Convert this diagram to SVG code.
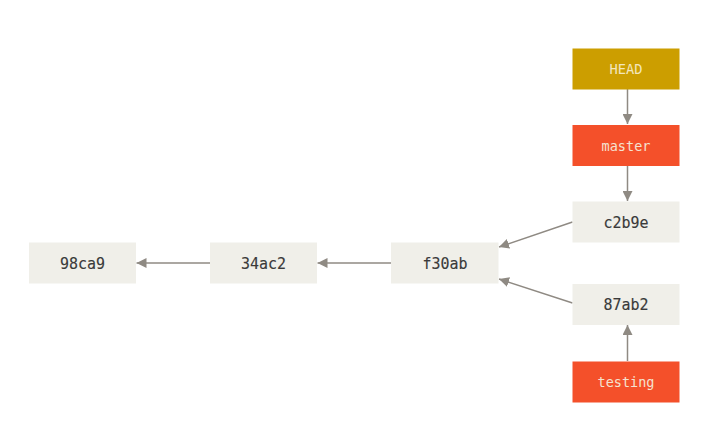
<svg xmlns="http://www.w3.org/2000/svg" width="728" height="437" viewBox="0 0 728 437">
<style>
.commit rect{fill:#F0EFE9}
.commit text{fill:#3a3a3a;font-family:"DejaVu Sans Mono","Liberation Mono",monospace;font-size:16.5px;text-anchor:middle;dominant-baseline:central;stroke:#3a3a3a;stroke-width:0.15}
.ref text{fill:#F4E2D0;font-family:"DejaVu Sans Mono","Liberation Mono",monospace;font-size:14.5px;text-anchor:middle;dominant-baseline:central}
.branch rect{fill:#F4502A}
.head rect{fill:#CC9E00}
.head text{fill:#F3E6BC}
#connectors line{stroke:#8F8A83;stroke-width:1.5;fill:none;marker-end:url(#arr)}
</style>
<defs>
<marker id="arr" viewBox="0 0 10 10" refX="10" refY="5" markerWidth="10" markerHeight="10" markerUnits="userSpaceOnUse" orient="auto">
<path d="M0,0 L10,5 L0,10 Z" fill="#8F8A83"/>
</marker>
</defs>
<rect width="728" height="437" fill="#ffffff"/>
<g id="connectors">
<line x1="627.5" y1="89" x2="627.5" y2="124"/>
<line x1="627.5" y1="166" x2="627.5" y2="201"/>
<line x1="572.5" y1="222" x2="499" y2="247"/>
<line x1="572.5" y1="303" x2="499" y2="279"/>
<line x1="627.5" y1="361" x2="627.5" y2="325"/>
<line x1="391" y1="263" x2="317.5" y2="263"/>
<line x1="210" y1="263" x2="136.5" y2="263"/>
</g>
<g id="HEAD" class="ref head"><rect x="572.5" y="48.5" width="107" height="41"/><text x="626" y="69" textLength="33" lengthAdjust="spacingAndGlyphs">HEAD</text></g>
<g id="master" class="ref branch"><rect x="572.5" y="125" width="107" height="41"/><text x="626" y="145.5" textLength="49" lengthAdjust="spacingAndGlyphs">master</text></g>
<g id="c2b9e" class="commit"><rect x="572.5" y="201.5" width="107" height="41"/><text x="626" y="222" textLength="45" lengthAdjust="spacingAndGlyphs">c2b9e</text></g>
<g id="f30ab" class="commit"><rect x="391" y="242.5" width="107.5" height="41"/><text x="445" y="263" textLength="45" lengthAdjust="spacingAndGlyphs">f30ab</text></g>
<g id="34ac2" class="commit"><rect x="210" y="242.5" width="107" height="41"/><text x="263.5" y="263" textLength="45" lengthAdjust="spacingAndGlyphs">34ac2</text></g>
<g id="98ca9" class="commit"><rect x="29" y="242.5" width="107" height="41"/><text x="82.5" y="263" textLength="45" lengthAdjust="spacingAndGlyphs">98ca9</text></g>
<g id="87ab2" class="commit"><rect x="572.5" y="284" width="107" height="41"/><text x="626" y="304.5" textLength="45" lengthAdjust="spacingAndGlyphs">87ab2</text></g>
<g id="testing" class="ref branch"><rect x="572.5" y="361.5" width="107" height="41"/><text x="626" y="382" textLength="57" lengthAdjust="spacingAndGlyphs">testing</text></g>
</svg>
